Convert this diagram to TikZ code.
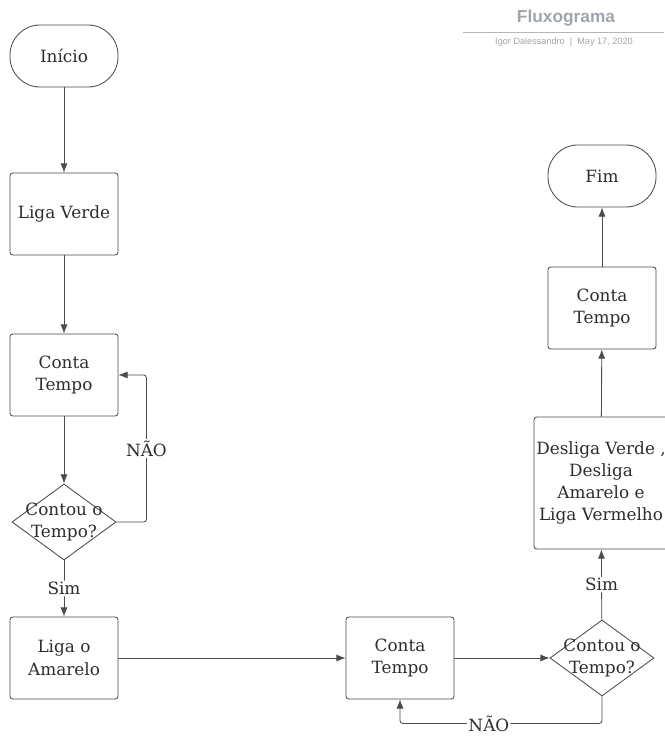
\documentclass[tikz,border=0pt]{standalone}
\usepackage{fontspec}
\setmainfont{DejaVu Serif}
\newfontfamily\headfont{Liberation Sans}
\usetikzlibrary{positioning,shapes.geometric,arrows.meta}
\definecolor{linegray}{RGB}{75,75,75}
\definecolor{textgray}{RGB}{45,45,45}
\definecolor{headgray}{RGB}{160,165,172}
\tikzset{
  boxtext/.style={text=textgray, font=\fontsize{12}{15.8}\selectfont, align=center},
  process/.style={boxtext, draw=linegray, line width=0.6pt, rounded corners=2pt, minimum width=2.7cm, minimum height=2.05cm},
  terminal/.style={process, rounded corners=0.75cm, minimum height=1.55cm},
  decision/.style={draw=linegray, line width=0.6pt, diamond, minimum width=2.6cm, minimum height=1.9cm, inner sep=0pt},
  flow/.style={draw=linegray, line width=0.6pt, -{Latex[length=6.5pt,width=5pt]}, rounded corners=2pt},
  answer/.style={boxtext, fill=white, inner sep=1pt},
}
\begin{document}
\begin{tikzpicture}[x=0.025cm,y=-0.025cm]
        \useasboundingbox (0,0) rectangle (664,736);

        % Header
        \node[font=\headfont\bfseries\fontsize{12.3}{14}\selectfont, text=headgray] (title) at (566,18) {Fluxograma};
        \coordinate (ruleL) at (463,32);
        \coordinate (ruleR) at (664,32);
        \draw[headgray!80, line width=0.7pt] (ruleL) -- (ruleR);
        \node[font=\headfont\fontsize{6.5}{8}\selectfont, text=headgray] (author) at (564,42) {Igor Dalessandro \ | \ May 17, 2020};

        % Left column
        \node[terminal] (inicio) at (64,56) {Início};
        \node[process] (verde) at (64,214) {Liga Verde};
        \node[process] (conta1) at (64,375) {Conta\\Tempo};
        \node[decision, label={[boxtext]center:Contou o\\Tempo?}] (teste1) at (64,522) {};
        \node[process] (amarelo) at (64,658) {Liga o\\Amarelo};

        % Bottom row
        \node[process] (conta2) at (400,658) {Conta\\Tempo};
        \node[decision, label={[boxtext]center:Contou o\\Tempo?}] (teste2) at (602,658) {};

        % Right column
        \node[process, inner xsep=1pt, minimum width=3.35cm, minimum height=3.3cm] (desliga) at (601,483) {Desliga Verde ,\\Desliga\\Amarelo e\\Liga Vermelho};
        \node[process] (conta3) at (602,308) {Conta\\Tempo};
        \node[terminal] (fim) at (602,176) {Fim};

        % Arrows
        \draw[flow] (inicio) -- (verde);
        \draw[flow] (verde) -- (conta1);
        \draw[flow] (conta1) -- (teste1);
        \draw[flow] (teste1.east) -- ++(30,0) |- (conta1.east) node[answer, pos=0.25] {NÃO};
        \draw[flow] (teste1) -- (amarelo) node[answer, midway] {Sim};
        \draw[flow] (amarelo) -- (conta2);
        \draw[flow] (conta2) -- (teste2);
        \draw[flow] (teste2.south) -- ++(0,27) -| (conta2.south) node[answer, pos=0.28] {NÃO};
        \draw[flow] (teste2) -- (desliga) node[answer, midway] {Sim};
        \draw[flow] (desliga) -- (conta3);
        \draw[flow] (conta3) -- (fim);
    \end{tikzpicture}
\end{document}
